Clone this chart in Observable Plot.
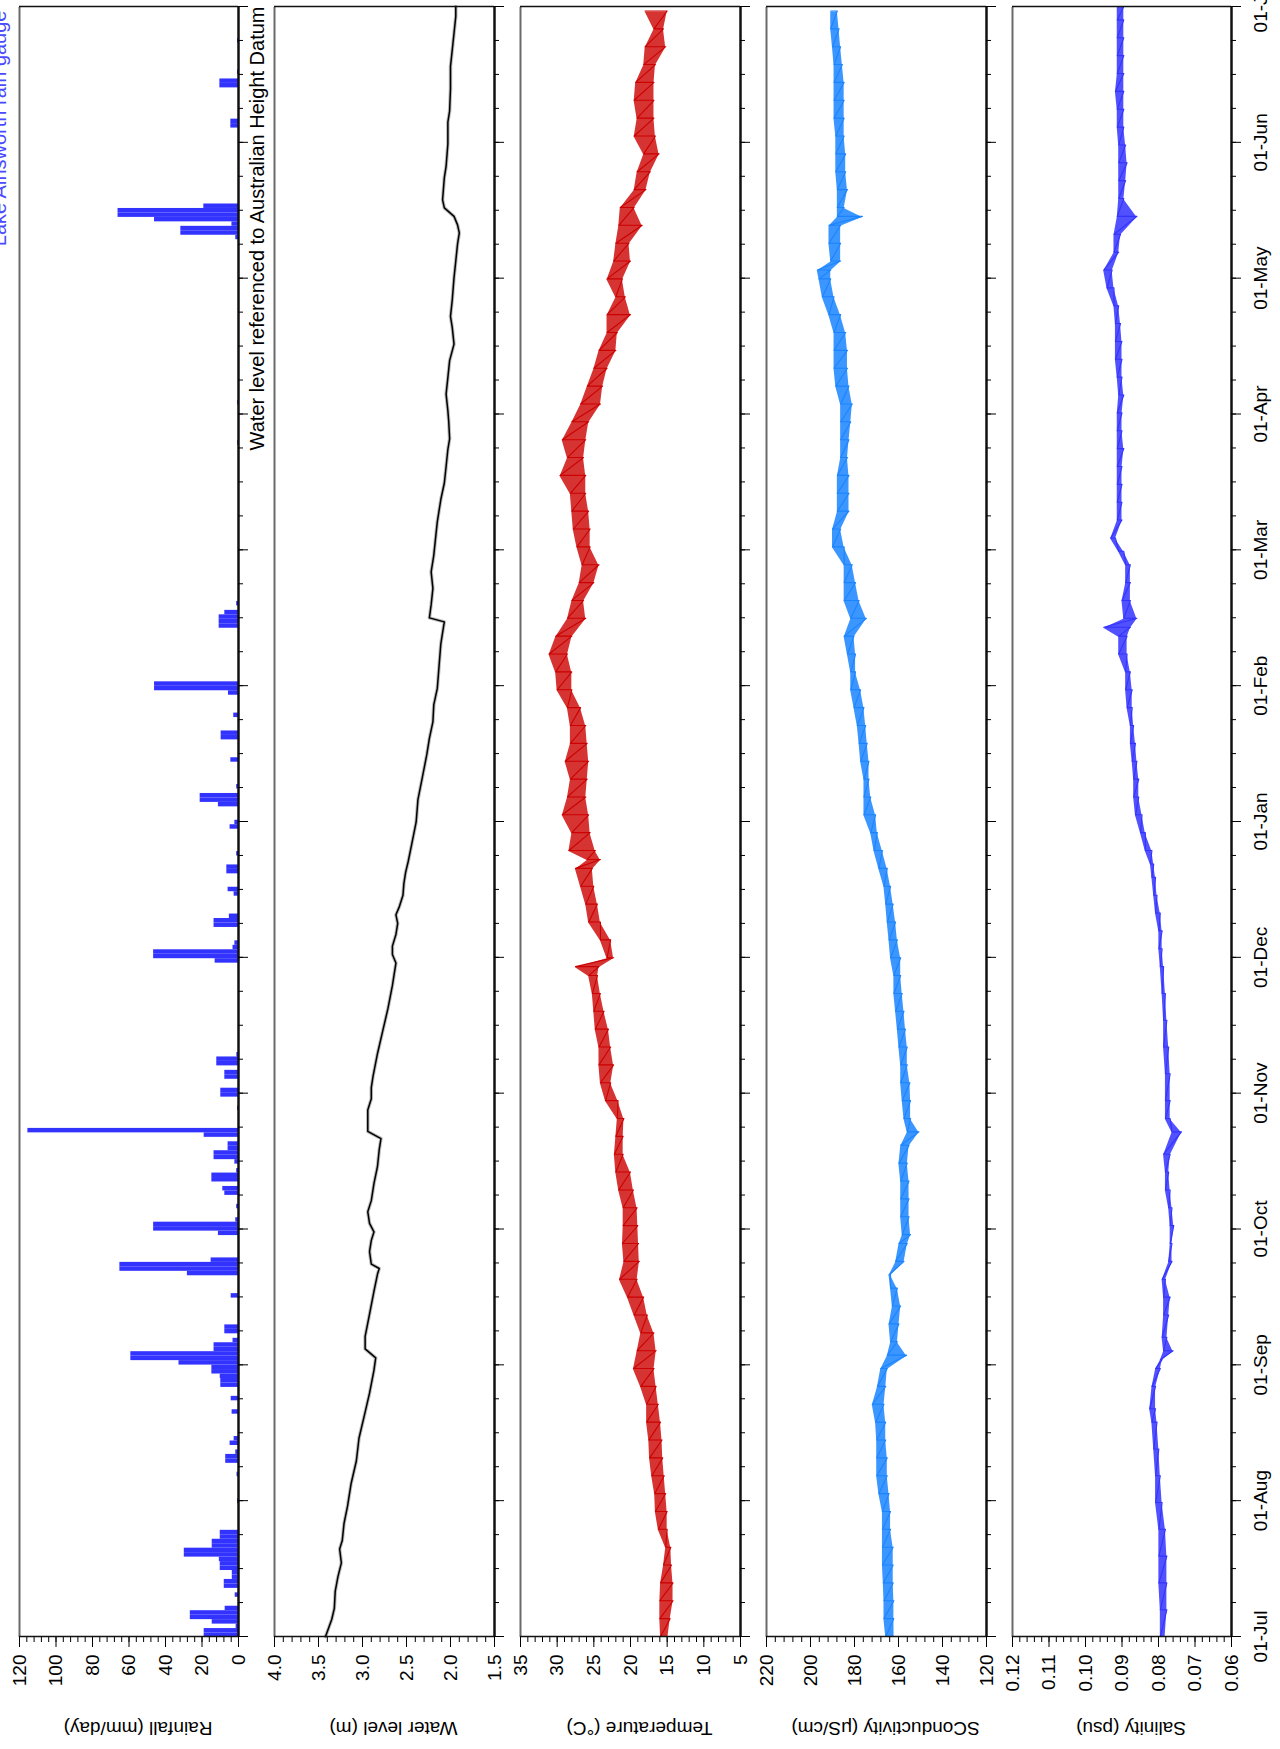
<!DOCTYPE html>
<html><head><meta charset="utf-8">
<script src="https://cdn.jsdelivr.net/npm/d3@7"></script>
<script src="https://cdn.jsdelivr.net/npm/@observablehq/plot@0.6"></script>
<style>
html,body{margin:0;padding:0;background:#fff;overflow:hidden;}
#page{position:relative;width:1280px;height:1749px;overflow:hidden;background:#fff;}
#land{position:absolute;left:0;top:0;width:1749px;height:1280px;transform-origin:0 0;transform:translate(0px,1749px) rotate(-90deg);}
</style></head>
<body><div id="page"><div id="land"></div></div>
<script>
// ---- time axis (days after 01-Jul) ----
const monthLabels = ["01-Jul","01-Aug","01-Sep","01-Oct","01-Nov","01-Dec","01-Jan","01-Feb","01-Mar","01-Apr","01-May","01-Jun","01-Jul"];

// ---- rainfall (mm/day) ----
const rainDay = [0,1,2,3,4,5,6,9,11,12,13,14,15,16,17,18,19,20,21,22,23,30,36,39,40,41,43,44,50,53,56,57,58,59,60,61,62,63,64,65,66,68,69,76,81,82,83,84,90,91,92,93,96,99,100,102,103,104,106,107,108,109,110,112,113,118,121,122,125,126,128,129,130,151,152,153,154,155,159,160,161,166,167,171,172,175,181,182,186,187,188,190,196,201,202,206,211,212,213,226,227,228,229,231,267,276,313,314,315,316,317,318,319,320,338,339,347,348,350,357];
const rainMm = [18.8,18.8,1.3,14.4,26.4,26.4,7.3,1.8,7.8,7.8,3.4,3.4,10,10,10.5,29.7,29.7,14.4,14.4,10,10,0.5,0.8,7,7,1.5,4.6,2.4,3.5,4,9.7,9.7,10,14.6,14.6,32.6,59,59,13.4,13.4,3,7.5,7.5,4,28,65,65,15,11,46.5,46.5,1.5,1,7.5,8.6,14.6,14.6,1,2,13.4,13.4,5.7,5.7,18.8,115.4,0.5,9.7,9.7,7.5,7.5,11.9,11.9,0.9,12.8,46.5,46.5,3,2,13.4,13.4,5,2.4,5.7,6.4,6.4,1,4.6,2,11,21,21,1,4.2,9.5,9.5,2.6,5.5,46,46,10.6,10.6,10.6,7.5,1,0.5,0.5,1.5,31.6,31.6,3.6,46,66,66,19,4.2,4.2,10.2,10.2,0.5,0.5];

// ---- water level (m AHD) ----
const wlDay = [0,3.8,6.3,10.1,13.3,16.5,19.6,21.5,25.3,29.2,34.2,39.3,44.4,49.4,54.5,59.6,62.4,64.4,67.2,72.2,77.3,81.1,82.4,83.4,86.2,88.7,90.6,92.5,95.1,97.6,101.4,105.2,109.0,111.5,113.1,115.3,117.9,120.4,122.9,125.5,130.5,135.6,140.7,145.8,148.3,150.8,152.7,154.6,157.2,159.7,161.6,163.5,166.0,168.6,171.1,173.6,177.5,182.4,187.4,192.4,197.4,201.1,204.8,208.6,212.3,217.3,222.3,226.0,227.2,228.1,231.0,234.7,238.4,242.1,245.9,249.6,254.6,258.3,262.0,265.8,268.2,272.0,274.5,278.2,281.9,285.7,289.4,293.1,295.6,299.3,304.3,308.0,311.8,314.3,316.1,318.0,319.9,321.7,324.2,326.7,329.2,334.2,339.1,341.6,346.6,351.6,355.3,359.0,362.8,365];
const wlM = [3.42,3.35,3.32,3.31,3.28,3.24,3.26,3.23,3.21,3.17,3.13,3.07,3.04,2.98,2.92,2.87,2.85,2.97,2.97,2.92,2.87,2.83,2.81,2.90,2.92,2.90,2.87,2.92,2.94,2.90,2.87,2.83,2.81,2.79,2.94,2.94,2.94,2.90,2.90,2.88,2.83,2.77,2.71,2.66,2.64,2.62,2.66,2.66,2.62,2.60,2.62,2.58,2.54,2.53,2.51,2.48,2.44,2.39,2.37,2.32,2.27,2.24,2.20,2.19,2.15,2.13,2.11,2.08,2.07,2.24,2.22,2.20,2.22,2.19,2.17,2.15,2.11,2.07,2.05,2.03,2.01,2.02,2.03,2.05,2.03,2.01,1.96,1.98,2.00,1.98,1.96,1.94,1.92,1.90,1.92,1.96,2.07,2.09,2.08,2.07,2.05,2.03,2.03,2.01,2.00,2.00,1.98,1.96,1.94,1.94];

// ---- temperature (°C): low / high of the daily swing ----
const tDay = [0,4,8,12,16,20,24,28,32,36,40,44,48,52,56,60,64,68,72,76,80,84,88,92,96,100,104,108,112,116,120,124,128,132,136,140,144,148,150,152,156,160,164,168,172,174,176,180,184,188,192,196,200,204,208,212,216,220,224,228,232,236,240,244,248,252,256,260,264,268,272,276,280,284,288,292,296,300,304,308,312,316,320,324,328,332,336,340,344,348,352,356,360,364];
const tLo = [14.9,14.6,14.2,14.2,14.4,14.5,15.0,15.0,15.2,15.4,15.6,15.7,15.9,16.2,16.5,16.8,16.5,16.8,17.7,18.2,19.1,18.8,18.9,19.0,19.1,19.6,20.0,21.0,21.0,20.9,21.7,22.7,22.3,22.7,23.0,23.6,24.1,24.5,24.3,22.3,22.7,24.1,24.5,25.0,25.2,24.1,24.8,25.5,25.7,26.1,25.9,25.7,25.9,26.1,26.8,28.0,28.0,28.6,28.0,26.1,26.4,25.0,24.3,25.5,25.5,25.7,26.1,26.1,26.4,26.1,25.7,24.1,23.8,23.2,22.0,21.8,20.0,20.7,21.1,20.0,20.2,18.4,19.5,17.9,17.3,16.1,16.6,16.8,16.8,16.8,16.6,15.2,15.5,15.0];
const tHi = [15.9,16.0,16.0,15.9,15.5,15.2,16.2,16.6,16.7,17.1,17.4,17.5,17.8,17.8,18.6,19.6,19.1,18.6,19.5,20.4,21.5,20.9,21.1,21.0,21.0,21.6,22.0,22.2,22.0,21.8,23.4,24.1,24.3,24.3,24.8,25.0,25.2,25.7,27.5,23.2,24.1,25.7,26.1,26.8,27.5,25.9,28.4,28.0,29.3,28.6,28.2,28.9,28.2,28.2,28.6,30.0,30.2,31.1,30.2,28.6,28.0,27.0,26.6,27.3,27.8,28.0,28.2,29.6,28.6,29.3,28.0,26.8,25.9,25.0,24.3,23.2,23.2,22.0,23.2,22.3,22.0,21.6,21.4,19.5,19.1,18.2,19.5,19.1,19.5,19.3,18.2,18.0,16.8,18.0];

// ---- specific conductivity (µS/cm) ----
const cDay = [0,4,8,12,16,20,24,28,32,36,40,44,48,52,56,60,63,66,70,74,78,81,84,88,90,94,98,102,106,110,113,116,120,124,128,132,136,140,144,148,152,156,160,164,168,172,176,180,184,188,192,196,200,204,208,212,216,220,224,228,232,236,240,244,248,252,256,260,264,268,272,276,280,284,288,292,296,300,304,306,308,312,316,318,320,324,328,332,336,340,344,348,352,356,360,364];
const cLo = [162.0,162.1,162.1,162.4,162.4,162.4,163.6,163.6,164.3,165.1,165.1,165.8,165.8,166.6,165.8,165.1,156.3,160.5,159.8,159.0,160.5,163.6,157.5,156.0,154.5,155.2,155.2,155.2,156.0,155.2,150.7,154.5,154.5,154.8,156.0,156.0,156.8,157.5,158.3,159.0,159.0,160.5,161.3,162.4,163.6,165.1,167.3,169.6,170.4,172.6,173.4,173.4,174.2,174.9,175.7,177.2,179.5,179.5,180.2,174.6,177.9,179.5,181.0,184.7,186.3,182.5,182.5,182.5,183.2,182.5,181.7,181.0,182.5,183.2,183.2,184.0,186.3,189.3,190.8,190.8,186.3,186.3,186.3,176.4,184.7,183.2,184.0,184.0,184.7,184.7,184.7,184.7,185.5,186.3,187.0,187.8];
const cHi = [165.8,166.6,166.6,166.9,167.3,167.3,167.3,167.3,168.9,169.9,169.9,169.9,170.4,171.9,169.6,168.1,165.1,163.6,164.3,162.8,163.6,164.3,161.3,159.8,158.3,159.0,159.0,159.0,159.8,159.0,156.0,157.5,158.3,159.0,159.0,159.8,160.5,161.3,162.1,162.1,163.6,164.3,165.1,165.8,166.6,168.9,171.1,172.6,175.7,175.7,175.7,177.2,177.9,178.7,180.2,181.7,181.7,183.2,184.7,181.7,184.7,184.7,184.7,190.0,190.0,187.8,187.8,187.8,186.3,186.3,186.3,186.3,188.5,189.3,189.3,189.3,191.6,194.6,196.1,196.9,190.8,191.6,191.6,187.8,187.8,187.8,188.5,188.5,188.5,189.3,189.3,189.3,189.3,190.0,190.8,190.8];

// ---- salinity (psu) ----
const sDay = [0,6,12,18,24,30,36,42,48,51,56,60,62,64,67,72,76,80,84,88,92,96,100,104,108,113,116,120,126,132,138,144,150,154,158,162,166,170,173,176,180,184,188,192,196,200,204,208,212,216,220,224,226,228,232,236,240,243,246,250,254,258,262,266,270,274,278,282,286,290,294,298,302,306,310,314,318,322,326,330,334,338,342,346,350,354,358,362,365];
const sLo = [0.0782,0.0777,0.0777,0.0777,0.0781,0.0790,0.0795,0.0799,0.0804,0.0808,0.0808,0.0795,0.0790,0.0760,0.0777,0.0772,0.0768,0.0781,0.0763,0.0763,0.0758,0.0763,0.0768,0.0772,0.0768,0.0737,0.0768,0.0768,0.0768,0.0772,0.0777,0.0781,0.0786,0.0790,0.0790,0.0795,0.0804,0.0808,0.0813,0.0818,0.0836,0.0845,0.0854,0.0854,0.0859,0.0863,0.0868,0.0872,0.0872,0.0877,0.0886,0.0886,0.0877,0.0859,0.0877,0.0877,0.0877,0.0895,0.0918,0.0900,0.0900,0.0900,0.0900,0.0895,0.0900,0.0900,0.0895,0.0900,0.0900,0.0900,0.0904,0.0909,0.0922,0.0927,0.0909,0.0904,0.0859,0.0895,0.0890,0.0886,0.0890,0.0895,0.0895,0.0895,0.0895,0.0895,0.0895,0.0895,0.0895];
const sHi = [0.0795,0.0795,0.0799,0.0799,0.0799,0.0808,0.0808,0.0813,0.0818,0.0824,0.0818,0.0808,0.0795,0.0786,0.0790,0.0786,0.0786,0.0790,0.0772,0.0768,0.0768,0.0772,0.0781,0.0781,0.0786,0.0763,0.0781,0.0781,0.0781,0.0786,0.0786,0.0790,0.0795,0.0799,0.0799,0.0808,0.0813,0.0818,0.0822,0.0836,0.0849,0.0863,0.0868,0.0868,0.0872,0.0877,0.0877,0.0886,0.0890,0.0890,0.0909,0.0909,0.0950,0.0895,0.0900,0.0890,0.0890,0.0909,0.0931,0.0913,0.0913,0.0913,0.0913,0.0913,0.0913,0.0913,0.0909,0.0913,0.0918,0.0918,0.0918,0.0922,0.0941,0.0950,0.0922,0.0922,0.0913,0.0909,0.0909,0.0909,0.0909,0.0913,0.0913,0.0918,0.0913,0.0913,0.0913,0.0913,0.0913];

// ---------------- drawing ----------------
const FONT = "'Liberation Sans', Arial, Helvetica, sans-serif";
const land = document.getElementById("land");
const xMajor = monthLabels.map((_, i) => i * 365 / 12);
const xMinor = d3.range(49).map(i => i * 365 / 48);
const labelOf = new Map(xMajor.map((t, i) => [t, monthLabels[i]]));
const steps = (a, b, s) => d3.range(0, Math.round((b - a) / s) + 1).map(i => +(a + i * s).toFixed(6));

function noisy(days, lo, hi, color, op) {
  const band = days.map((d, i) => ({d, lo: lo[i], hi: hi[i]}));
  const saw = days.flatMap((d, i) => [{d, v: lo[i]}, {d, v: hi[i]}]);
  return [
    Plot.areaY(band, {x: "d", y1: "lo", y2: "hi", fill: color, fillOpacity: op}),
    Plot.line(saw, {x: "d", y: "v", stroke: color, strokeWidth: 1.1})
  ];
}

function panel(cfg) {
  const {top, bottom, domain, majors, minors, fmt, title, marks, dates, extra} = cfg;
  const mt = 14, mb = dates ? 50 : 16;
  const svg = Plot.plot({
    width: 1749, height: (bottom - top) + mt + mb,
    marginLeft: 112, marginRight: 7, marginTop: mt, marginBottom: mb,
    style: {background: "none", overflow: "visible", fontFamily: FONT, fontSize: "19px", maxWidth: "none"},
    x: {domain: [0, 365], axis: null, label: null},
    y: {domain, axis: null, label: null},
    marks: [
      ...marks,
      Plot.ruleY([domain[1]], {stroke: "#6a6a6a", strokeWidth: 2}),
      Plot.ruleY([domain[0]], {stroke: "#111", strokeWidth: 2.5}),
      Plot.ruleX([0], {stroke: "#111", strokeWidth: 1.5}),
      Plot.ruleX([365], {stroke: "#111", strokeWidth: 1.3}),
      Plot.axisY({ticks: minors, tickSize: 5, tickFormat: () => "", label: null}),
      Plot.axisY({ticks: majors, tickSize: 10, tickPadding: 8, tickFormat: fmt, fontSize: 19, label: null}),
      Plot.axisX({ticks: xMinor, tickSize: 5, tickFormat: () => "", label: null}),
      Plot.axisX({ticks: xMajor, tickSize: 10, tickPadding: 12, fontSize: 19, label: null,
                  tickFormat: dates ? (d => labelOf.get(d)) : () => ""}),
      Plot.text([title], {text: d => d, frameAnchor: "left", dx: -92, dy: 9, rotate: -90,
                          textAnchor: "middle", lineAnchor: "middle", fontSize: 19}),
      ...(extra || [])
    ]
  });
  svg.style.position = "absolute";
  svg.style.left = "0px";
  svg.style.top = (top - mt) + "px";
  land.appendChild(svg);
}

// Rainfall
panel({
  top: 19, bottom: 238, domain: [0, 120],
  majors: steps(0, 120, 20), minors: steps(0, 120, 4), fmt: d3.format("d"),
  title: "Rainfall (mm/day)",
  marks: [
    Plot.rectY(rainDay.map((d, i) => ({d, v: rainMm[i]})),
      {x1: d => d.d, x2: d => d.d + 1, y: "v", fill: "#3333ff", inset: 0})
  ],
  extra: [
    Plot.text(["Lake Ainsworth rain gauge"], {text: d => d, frameAnchor: "top-right", dx: -4, dy: -14,
      textAnchor: "end", lineAnchor: "bottom", fill: "#4a4aff", fontSize: 20})
  ]
});

// Water level
const wl = wlDay.map((d, i) => ({d, v: wlM[i]}));
panel({
  top: 274, bottom: 494, domain: [1.5, 4.0],
  majors: steps(1.5, 4.0, 0.5), minors: steps(1.5, 4.0, 0.1), fmt: d3.format(".1f"),
  title: "Water level (m)",
  marks: [
    Plot.line(wl, {x: "d", y: "v", stroke: "#777", strokeWidth: 3.5, strokeOpacity: 0.5}),
    Plot.line(wl, {x: "d", y: "v", stroke: "#000", strokeWidth: 1.5})
  ],
  extra: [
    Plot.text(["Water level referenced to Australian Height Datum"], {text: d => d, frameAnchor: "top-right",
      dx: 0, dy: -11, textAnchor: "end", lineAnchor: "bottom", fill: "#000", fontSize: 20})
  ]
});

// Temperature
panel({
  top: 520, bottom: 740, domain: [5, 35],
  majors: steps(5, 35, 5), minors: steps(5, 35, 1), fmt: d3.format("d"),
  title: "Temperature (°C)",
  marks: noisy(tDay, tLo, tHi, "#cc0000", 0.8)
});

// Conductivity
panel({
  top: 766, bottom: 986, domain: [120, 220],
  majors: steps(120, 220, 20), minors: steps(120, 220, 4), fmt: d3.format("d"),
  title: "SConductivity (μS/cm)",
  marks: noisy(cDay, cLo, cHi, "#1a84ff", 0.85)
});

// Salinity
panel({
  top: 1012, bottom: 1231, domain: [0.06, 0.12],
  majors: steps(0.06, 0.12, 0.01), minors: steps(0.06, 0.12, 0.002), fmt: d3.format(".2f"),
  title: "Salinity (psu)",
  marks: noisy(sDay, sLo, sHi, "#3333ff", 0.85),
  dates: true
});
</script>
</body></html>
